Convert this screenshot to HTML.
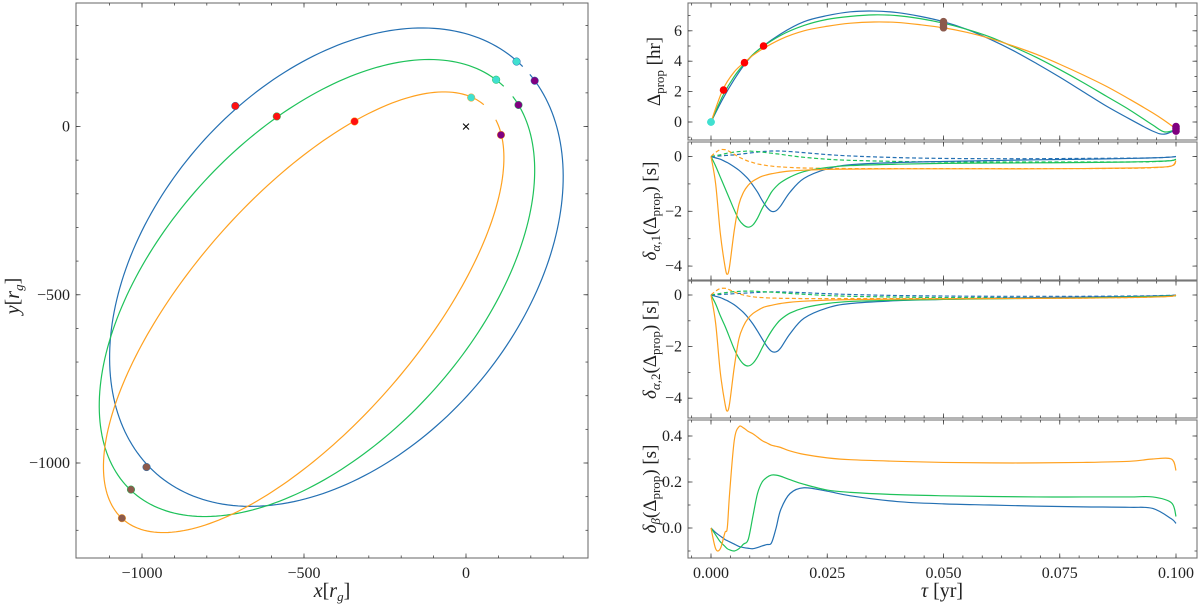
<!DOCTYPE html>
<html><head><meta charset="utf-8"><style>
html,body{margin:0;padding:0;background:#fff;}
svg{display:block;font-family:"Liberation Serif",serif;}
</style></head><body>
<svg id="fig" width="1200" height="606" viewBox="0 0 1200 606" xmlns="http://www.w3.org/2000/svg"></svg>
<script>
// ===== Orbit data (left panel) =====
const orbitNames = ['blue-orbit','green-orbit','orange-orbit'];
const orbitColors = ['#2470b3','#1ec25a','#ffa11f'];
const orbitCx = [-400,-460,-501];
const orbitCy = [-418,-480,-552];
const orbitHalfX = [700,672,618];
const orbitCrossY = [269,350,459];
const orbitSinY = [658,582,467];
const markerCyanX = [156,93,16];   const markerCyanY = [193,139,86];
const markerRedX = [-712,-584,-344]; const markerRedY = [61,30,15];
const markerBrownX = [-986,-1034,-1062]; const markerBrownY = [-1012,-1079,-1164];
const markerPurpleX = [212,162,108]; const markerPurpleY = [136,64,-25];
const xTicksL = [-1000,-500,0];
const yTicksL = [0,-500,-1000];

// ===== Right panels data =====
const tau1 = [0,.0025,.005,.0075,.01,.015,.02,.025,.03,.035,.04,.045,.05,.055,.06,.065,.07,.075,.08,.085,.09,.095,.0975,.1];
const propBlue = [0,1.5,2.8,3.9,4.7,5.8,6.6,7.0,7.25,7.3,7.2,6.95,6.6,6.1,5.45,4.7,3.85,2.95,2.0,1.05,0.2,-0.6,-0.8,-0.5];
const propGreen = [0,1.7,3.0,3.95,4.7,5.7,6.35,6.75,6.95,7.05,7.0,6.8,6.5,6.1,5.6,4.95,4.25,3.45,2.6,1.7,0.8,-0.2,-0.65,-0.5];
const propOrange = [0,2.1,3.3,4.0,4.6,5.45,6.0,6.3,6.5,6.58,6.55,6.4,6.2,5.9,5.5,5.0,4.45,3.8,3.1,2.35,1.5,0.6,0.1,-0.45];
const propMarkT = [0,0,0,.0027,.0072,.0113,.05,.05,.05,.1,.1,.1];
const propMarkV = [0,0,0,2.1,3.9,5.0,6.6,6.4,6.2,-0.3,-0.45,-0.6];
const propMarkC = ['#40e0d0','#40e0d0','#40e0d0','#ff0000','#ff0000','#ff0000','#8c5a4c','#8c5a4c','#8c5a4c','#800080','#800080','#800080'];

const tau = [0,.001,.002,.003,.0035,.004,.005,.006,.007,.008,.009,.01,.011,.012,.013,.014,.015,.017,.02,.025,.03,.04,.05,.06,.07,.08,.09,.095,.099,.1];
const a1Orange = [0,-1.0,-2.8,-4.0,-4.3,-4.0,-2.7,-1.75,-1.3,-1.05,-0.9,-0.8,-0.72,-0.67,-0.63,-0.6,-0.57,-0.53,-0.5,-0.47,-0.46,-0.45,-0.45,-0.45,-0.45,-0.44,-0.42,-0.4,-0.35,-0.15];
const a1Green = [0,-0.35,-0.75,-1.15,-1.35,-1.55,-1.95,-2.3,-2.5,-2.58,-2.5,-2.25,-1.9,-1.6,-1.3,-1.1,-0.95,-0.75,-0.55,-0.4,-0.33,-0.28,-0.25,-0.24,-0.23,-0.22,-0.2,-0.18,-0.15,-0.1];
const a1Blue = [0,-0.05,-0.1,-0.18,-0.22,-0.27,-0.38,-0.5,-0.65,-0.82,-1.05,-1.3,-1.6,-1.85,-2.0,-1.98,-1.8,-1.3,-0.8,-0.45,-0.3,-0.22,-0.18,-0.15,-0.12,-0.1,-0.07,-0.05,-0.02,0];
const a1OrangeD = [0,0.15,0.25,0.25,0.22,0.18,0.08,-0.02,-0.1,-0.17,-0.22,-0.27,-0.3,-0.33,-0.35,-0.37,-0.38,-0.4,-0.42,-0.43,-0.44,-0.44,-0.44,-0.44,-0.44,-0.44,-0.43,-0.41,-0.35,-0.2];
const a1GreenD = [0,0.03,0.06,0.1,0.12,0.13,0.16,0.18,0.19,0.2,0.19,0.18,0.16,0.14,0.12,0.1,0.08,0.03,-0.03,-0.1,-0.14,-0.18,-0.2,-0.2,-0.2,-0.2,-0.2,-0.19,-0.15,-0.1];
const a1BlueD = [0,0.01,0.02,0.035,0.04,0.05,0.06,0.08,0.1,0.12,0.14,0.16,0.18,0.19,0.2,0.2,0.2,0.18,0.14,0.07,0.02,-0.04,-0.07,-0.08,-0.08,-0.07,-0.06,-0.05,-0.02,0];

const a2Orange = [0,-1.1,-3.0,-4.2,-4.5,-4.2,-2.8,-1.7,-1.2,-0.9,-0.72,-0.6,-0.5,-0.44,-0.4,-0.36,-0.33,-0.28,-0.24,-0.2,-0.18,-0.16,-0.15,-0.14,-0.13,-0.12,-0.1,-0.08,-0.05,0];
const a2Green = [0,-0.35,-0.8,-1.2,-1.42,-1.65,-2.1,-2.45,-2.68,-2.75,-2.65,-2.4,-2.05,-1.7,-1.4,-1.15,-0.95,-0.7,-0.5,-0.33,-0.25,-0.2,-0.17,-0.15,-0.13,-0.11,-0.08,-0.06,-0.04,-0.03];
const a2Blue = [0,-0.05,-0.1,-0.18,-0.22,-0.27,-0.38,-0.52,-0.68,-0.88,-1.12,-1.4,-1.7,-1.98,-2.18,-2.2,-2.05,-1.5,-0.9,-0.5,-0.33,-0.22,-0.17,-0.13,-0.1,-0.08,-0.06,-0.04,-0.02,0];
const a2OrangeD = [0,0.15,0.25,0.26,0.24,0.2,0.12,0.05,0.0,-0.04,-0.07,-0.09,-0.1,-0.11,-0.12,-0.12,-0.13,-0.13,-0.14,-0.14,-0.14,-0.14,-0.14,-0.13,-0.13,-0.12,-0.1,-0.08,-0.05,0];
const a2GreenD = [0,0.03,0.06,0.09,0.1,0.11,0.13,0.14,0.15,0.15,0.15,0.14,0.13,0.12,0.11,0.1,0.09,0.06,0.03,-0.02,-0.05,-0.08,-0.1,-0.1,-0.1,-0.1,-0.08,-0.06,-0.03,0];
const a2BlueD = [0,0.01,0.02,0.03,0.035,0.04,0.05,0.06,0.07,0.08,0.09,0.1,0.11,0.115,0.12,0.12,0.12,0.11,0.09,0.05,0.02,-0.02,-0.04,-0.05,-0.05,-0.05,-0.04,-0.03,-0.01,0];

const bOrange = [0,-0.09,-0.09,-0.02,0.0,0.15,0.38,0.44,0.435,0.42,0.41,0.395,0.38,0.37,0.36,0.355,0.35,0.335,0.32,0.305,0.297,0.29,0.285,0.283,0.283,0.285,0.29,0.3,0.3,0.25];
const bGreen = [0,-0.03,-0.06,-0.08,-0.09,-0.095,-0.1,-0.09,-0.07,-0.05,0.05,0.15,0.2,0.22,0.23,0.23,0.225,0.21,0.19,0.165,0.155,0.145,0.14,0.137,0.135,0.135,0.135,0.135,0.11,0.05];
const bBlue = [0,-0.02,-0.035,-0.05,-0.055,-0.06,-0.07,-0.08,-0.085,-0.088,-0.09,-0.085,-0.078,-0.072,-0.065,0.0,0.08,0.15,0.175,0.16,0.14,0.115,0.105,0.1,0.095,0.092,0.09,0.085,0.04,0.02];

const xTicksR = [0,0.025,0.05,0.075,0.1];
const xTickLabelsR = ['0.000','0.025','0.050','0.075','0.100'];

const NS='http://www.w3.org/2000/svg';
const fig=document.getElementById('fig');
function el(tag,attrs,parent){const e=document.createElementNS(NS,tag);for(const k in attrs)e.setAttribute(k,attrs[k]);(parent||fig).appendChild(e);return e;}
function txt(s,attrs,parent){const e=el('text',attrs,parent);e.textContent=s;return e;}
const fmt=v=>(v<0?'\u2212':'')+Math.abs(v);

function smoothPath(pts){
  let d='M'+pts[0][0].toFixed(2)+','+pts[0][1].toFixed(2);
  for(let i=0;i<pts.length-1;i++){
    const p0=pts[Math.max(0,i-1)],p1=pts[i],p2=pts[i+1],p3=pts[Math.min(pts.length-1,i+2)];
    const c1=[p1[0]+(p2[0]-p0[0])/6,p1[1]+(p2[1]-p0[1])/6];
    const c2=[p2[0]-(p3[0]-p1[0])/6,p2[1]-(p3[1]-p1[1])/6];
    d+=' C'+c1[0].toFixed(2)+','+c1[1].toFixed(2)+' '+c2[0].toFixed(2)+','+c2[1].toFixed(2)+' '+p2[0].toFixed(2)+','+p2[1].toFixed(2);
  }
  return d;
}

function ticksFor(g,x0,x1,y0,y1,xs,ys,major){
  const L=major?4.5:2.5;
  xs.forEach(px=>{el('line',{x1:px,y1:y1,x2:px,y2:y1-L,stroke:'#444','stroke-width':0.8},g);el('line',{x1:px,y1:y0,x2:px,y2:y0+L,stroke:'#444','stroke-width':0.8},g);});
  ys.forEach(py=>{el('line',{x1:x0,y1:py,x2:x0+L,y2:py,stroke:'#444','stroke-width':0.8},g);el('line',{x1:x1,y1:py,x2:x1-L,y2:py,stroke:'#444','stroke-width':0.8},g);});
}

// ===== LEFT PANEL =====
const L={x0:76,x1:588,y0:3,y1:558};
const sxL=v=>466+v*0.324;
const syL=v=>126.5-v*0.3365;
const gL=el('g',{});


el('rect',{x:L.x0,y:L.y0,width:L.x1-L.x0,height:L.y1-L.y0,fill:'none',stroke:'#666','stroke-width':1},gL);
{
  const mx=[],my=[];
  for(let v=-1100;v<=300;v+=100)mx.push(sxL(v));
  for(let v=300;v>=-1200;v-=100)my.push(syL(v));
  ticksFor(gL,L.x0,L.x1,L.y0,L.y1,mx,my,false);
  ticksFor(gL,L.x0,L.x1,L.y0,L.y1,xTicksL.map(sxL),yTicksL.map(syL),true);
}
xTicksL.forEach(v=>{const t=txt(fmt(v),{x:sxL(v),y:L.y1+20,'text-anchor':'middle','font-size':16,fill:'#222'},gL);});
yTicksL.forEach(v=>{const t=txt(fmt(v),{x:L.x0-6,y:syL(v)+5,'text-anchor':'end','font-size':16,fill:'#222'},gL);});
{const t=txt('',{x:332,y:597,'text-anchor':'middle','font-size':20,fill:'#222'},gL);
 t.innerHTML='<tspan font-style="italic">x</tspan>[<tspan font-style="italic">r</tspan><tspan font-style="italic" font-size="13" dy="4">g</tspan><tspan dy="-4">]</tspan>';}
{const t=txt('',{x:0,y:0,'text-anchor':'middle','font-size':20,fill:'#222',transform:'translate(19,296) rotate(-90)'},gL);
 t.innerHTML='<tspan font-style="italic">y</tspan>[<tspan font-style="italic">r</tspan><tspan font-style="italic" font-size="13" dy="4">g</tspan><tspan dy="-4">]</tspan>';}

function orbitParam(i,x,y){
  const A=orbitHalfX[i],C=orbitCrossY[i],D=orbitSinY[i];
  const c=(x-orbitCx[i])/A; const s=((y-orbitCy[i])-C*c)/D;
  return Math.atan2(s,c);
}
for(let i=0;i<3;i++){
  let t0=orbitParam(i,markerCyanX[i],markerCyanY[i]);
  let t1=orbitParam(i,markerPurpleX[i],markerPurpleY[i]);
  while(t1<=t0)t1+=2*Math.PI;
  const gap=(t0+2*Math.PI)-t1;
  t0-=gap*0.3; t1+=gap*0.3;
  const pts=[];
  for(let k=0;k<=240;k++){const t=t0+(t1-t0)*k/240;
    const x=orbitCx[i]+orbitHalfX[i]*Math.cos(t), y=orbitCy[i]+orbitCrossY[i]*Math.cos(t)+orbitSinY[i]*Math.sin(t);
    pts.push(sxL(x).toFixed(2)+','+syL(y).toFixed(2));}
  const p=el('polyline',{points:pts.join(' '),fill:'none',stroke:orbitColors[i],'stroke-width':1.2},gL);
  
  
}
const markerSets=[[markerCyanX,markerCyanY,'#40e0d0','cyan-marker'],[markerRedX,markerRedY,'#ff1010','red-marker'],[markerBrownX,markerBrownY,'#8c5a4c','brown-marker'],[markerPurpleX,markerPurpleY,'#800080','purple-marker']];
markerSets.forEach(ms=>{for(let i=0;i<3;i++){const c=el('circle',{cx:sxL(ms[0][i]),cy:syL(ms[1][i]),r:3.8,fill:ms[2],stroke:orbitColors[i],'stroke-width':0.5},gL);
  }});
{const t=txt('\u00d7',{x:sxL(0),y:syL(0)+5,'text-anchor':'middle','font-size':15,'font-family':'Liberation Sans, sans-serif',fill:'#000'},gL);}

// ===== RIGHT PANELS =====
const RX0=688,RX1=1197;
const sxR=v=>711+v*4650;
const panels=[
 {name:'delay-panel',y0:3,y1:140,z:122,k:15.2,ticks:[0,2,4,6],minor:[-1,0,1,2,3,4,5,6,7],labels:['0','2','4','6'],
  series:[[propBlue,'#2470b3',0],[propGreen,'#1ec25a',0],[propOrange,'#ffa11f',0]],t:tau1,ylab:'<tspan>Δ</tspan><tspan font-size="13" dy="4">prop</tspan><tspan dy="-4"> [hr]</tspan>'},
 {name:'alpha1-panel',y0:142,y1:280,z:156.5,k:27.4,ticks:[0,-2,-4],minor:[0,-1,-2,-3,-4],labels:['0','−2','−4'],
  series:[[a1BlueD,'#2470b3',1],[a1GreenD,'#1ec25a',1],[a1OrangeD,'#ffa11f',1],[a1Blue,'#2470b3',0],[a1Green,'#1ec25a',0],[a1Orange,'#ffa11f',0]],t:tau,
  ylab:'<tspan font-style="italic">δ</tspan><tspan font-size="13" dy="4" font-style="italic">α</tspan><tspan font-size="13">,1</tspan><tspan dy="-4">(Δ</tspan><tspan font-size="13" dy="4">prop</tspan><tspan dy="-4">) [s]</tspan>'},
 {name:'alpha2-panel',y0:281,y1:418,z:295,k:25.8,ticks:[0,-2,-4],minor:[0,-1,-2,-3,-4],labels:['0','−2','−4'],
  series:[[a2BlueD,'#2470b3',1],[a2GreenD,'#1ec25a',1],[a2OrangeD,'#ffa11f',1],[a2Blue,'#2470b3',0],[a2Green,'#1ec25a',0],[a2Orange,'#ffa11f',0]],t:tau,
  ylab:'<tspan font-style="italic">δ</tspan><tspan font-size="13" dy="4" font-style="italic">α</tspan><tspan font-size="13">,2</tspan><tspan dy="-4">(Δ</tspan><tspan font-size="13" dy="4">prop</tspan><tspan dy="-4">) [s]</tspan>'},
 {name:'beta-panel',y0:420,y1:558,z:528,k:230,ticks:[0,0.2,0.4],minor:[-0.1,0,0.1,0.2,0.3,0.4],labels:['0.0','0.2','0.4'],
  series:[[bBlue,'#2470b3',0],[bGreen,'#1ec25a',0],[bOrange,'#ffa11f',0]],t:tau,
  ylab:'<tspan font-style="italic">δ</tspan><tspan font-size="13" dy="4" font-style="italic">β</tspan><tspan dy="-4">(Δ</tspan><tspan font-size="13" dy="4">prop</tspan><tspan dy="-4">) [s]</tspan>'}
];
const minorX=[];for(let k=0;k<=26;k++){const v=-0.025/6*2+k*0.025/6;if(v>-0.005&&v<0.104)minorX.push(sxR(v));}
panels.forEach((P,pi)=>{
  const g=el('g',{});
  
  
  const sy=v=>P.z-v*P.k;
  const clipId='clip'+pi;
  const cp=el('clipPath',{id:clipId},g);el('rect',{x:RX0,y:P.y0,width:RX1-RX0,height:P.y1-P.y0},cp);
  el('rect',{x:RX0,y:P.y0,width:RX1-RX0,height:P.y1-P.y0,fill:'none',stroke:'#777','stroke-width':1.1},g);
  ticksFor(g,RX0,RX1,P.y0,P.y1,minorX,P.minor.map(sy),false);
  ticksFor(g,RX0,RX1,P.y0,P.y1,xTicksR.map(sxR),P.ticks.map(sy),true);
  P.ticks.forEach((v,i)=>{const t=txt(P.labels[i],{x:RX0-6,y:sy(v)+5,'text-anchor':'end','font-size':16,fill:'#222'},g);});
  const cg=el('g',{'clip-path':'url(#'+clipId+')'},g);
  P.series.forEach(s=>{
    const pts=P.t.map((tv,i)=>[sxR(tv),sy(s[0][i])]);
    const a={d:smoothPath(pts),fill:'none',stroke:s[1],'stroke-width':1.2};
    if(s[2])a['stroke-dasharray']='4,2.5';
    const p=el('path',a,cg);
    
    
  });
  if(pi===0){
    propMarkT.forEach((tv,i)=>{const c=el('circle',{cx:sxR(tv),cy:sy(propMarkV[i]),r:3.8,fill:propMarkC[i]},cg);
      });
  }
  const yl=txt('',{x:0,y:0,'text-anchor':'middle','font-size':19,fill:'#222',transform:'translate('+(pi===0?660:656)+','+((P.y0+P.y1)/2)+') rotate(-90)'},g);
  yl.innerHTML=P.ylab;
  
  
  if(pi===3){
    xTicksR.forEach((v,i)=>{const t=txt(xTickLabelsR[i],{x:sxR(v),y:P.y1+20,'text-anchor':'middle','font-size':16,fill:'#222'},g);});
  }
});
{const t=txt('',{x:942,y:597,'text-anchor':'middle','font-size':20,fill:'#222'});
 t.innerHTML='<tspan font-style="italic">τ</tspan> [yr]';}
</script>
</body></html>
